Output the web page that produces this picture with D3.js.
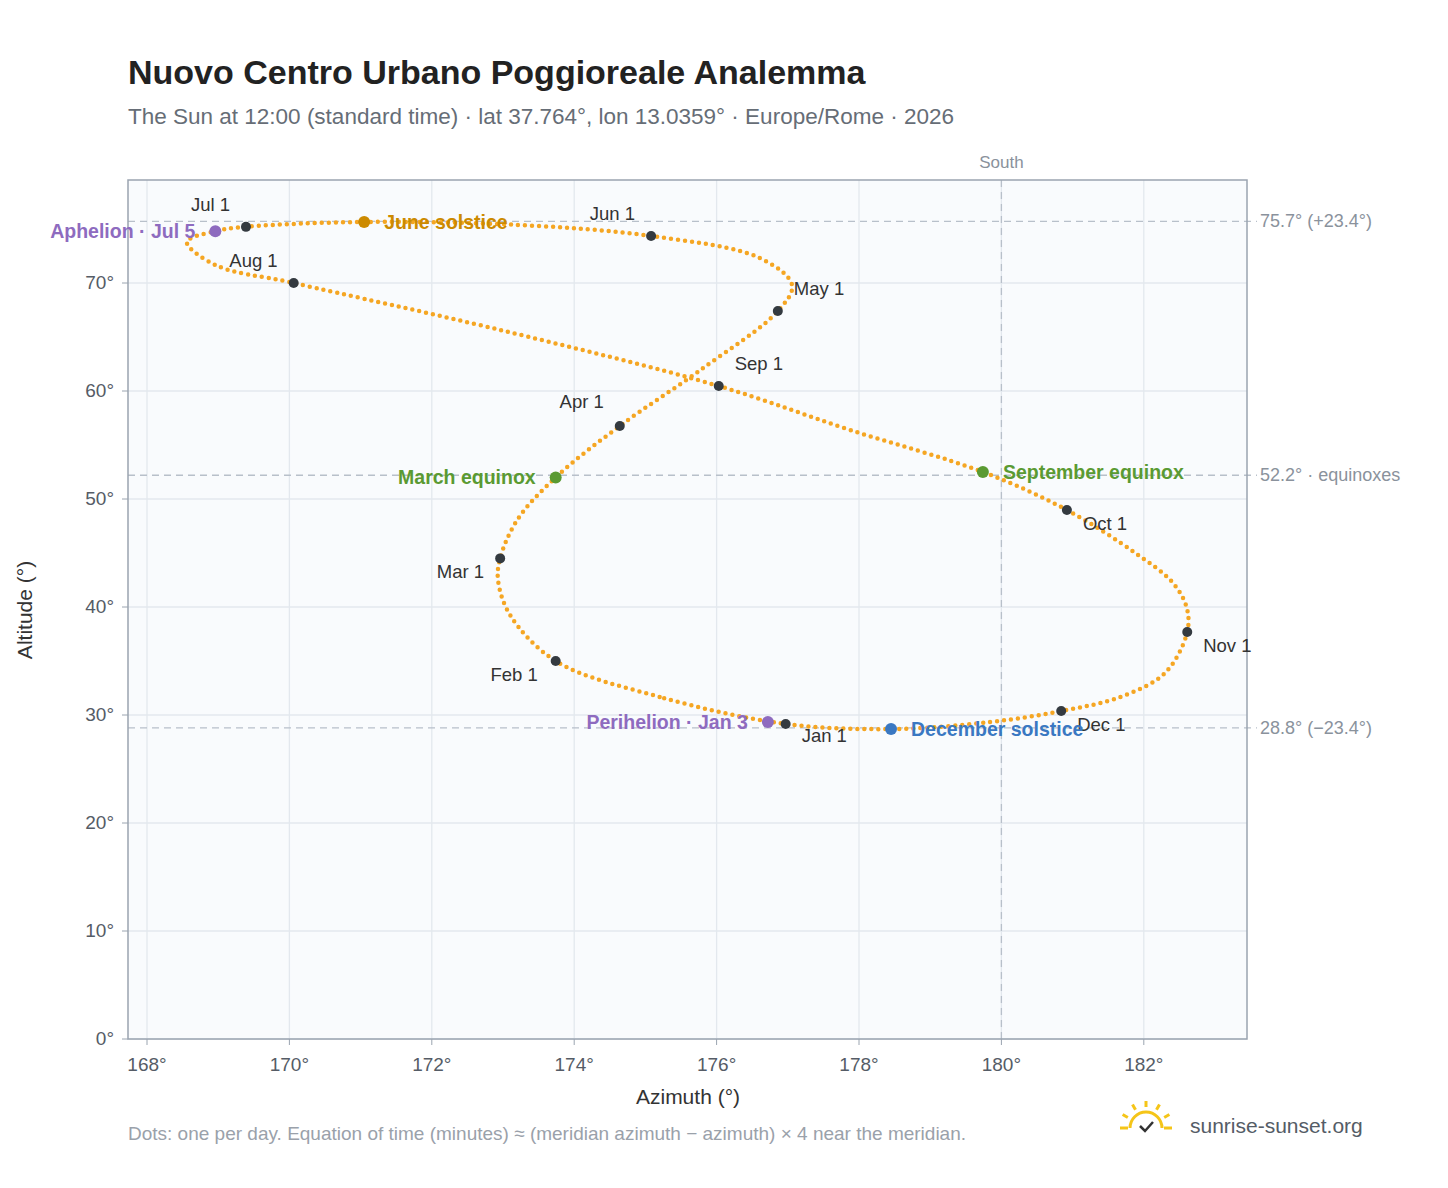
<!DOCTYPE html>
<html><head><meta charset="utf-8">
<script src="https://cdn.jsdelivr.net/npm/d3@7/dist/d3.min.js"></script>
<style>body{margin:0;background:#fff;font-family:"Liberation Sans",Arial,sans-serif}</style>
</head><body><svg id="c" width="1448" height="1188"></svg>
<script>
// Sun position at 12:00 through the year [azimuth, altitude]
const pathDates = ["Jan 1","Jan 15","Feb 1","Feb 15","Feb 20","Mar 1","Mar 10","Mar 20","Apr 1","Apr 15","May 1","May 12","May 20","Jun 1","Jun 10","Jun 21","Jul 1","Jul 5","Jul 12","Jul 20","Aug 1","Aug 15","Sep 1","Sep 15","Sep 23","Oct 1","Oct 15","Oct 22","Oct 27","Nov 1","Nov 10","Nov 20","Dec 1","Dec 10","Dec 21"];
const pathAz  = [176.97,175.2,173.74,173.1,172.93,172.96,173.2,173.74,174.64,175.77,176.86,177.06,176.61,175.08,173.24,171.05,169.39,168.96,168.56,168.96,170.06,172.96,176.03,177.87,179.74,180.92,181.88,182.4,182.6,182.61,182.3,181.67,180.84,179.84,178.45];
const pathAlt = [29.17,31.67,35.0,39.26,42.5,44.5,48.06,52.0,56.76,61.94,67.4,69.8,72.3,74.35,75.37,75.65,75.2,74.8,73.8,71.67,70.0,65.65,60.46,56.4,52.5,48.98,45.0,42.3,40.0,37.69,33.9,31.67,30.37,29.35,28.7];
const monthLabels = ["Jan 1","Feb 1","Mar 1","Apr 1","May 1","Jun 1","Jul 1","Aug 1","Sep 1","Oct 1","Nov 1","Dec 1"];
const monthAz  = [176.97,173.74,172.96,174.64,176.86,175.08,169.39,170.06,176.03,180.92,182.61,180.84];
const monthAlt = [29.17,35.0,44.5,56.76,67.4,74.35,75.2,70.0,60.46,48.98,37.69,30.37];
const specialLabels = ["Perihelion · Jan 3","March equinox","June solstice","Aphelion · Jul 5","September equinox","December solstice"];
const specialAz  = [176.72,173.74,171.05,168.96,179.74,178.45];
const specialAlt = [29.35,52.0,75.65,74.8,52.5,28.7];
const specialColor = ["#8e6bbf","#5a9a32","#cc8a00","#8e6bbf","#5a9a32","#3a78c2"];
const refAlt = [75.7,52.2,28.8];
const refLabels = ["75.7° (+23.4°)","52.2° · equinoxes","28.8° (−23.4°)"];
const xTicks = [168,170,172,174,176,178,180,182];
const yTicks = [0,10,20,30,40,50,60,70];

const svg=d3.select("#c");
const L=128,R=1247,T=180,B=1039;
const x=d3.scaleLinear().domain([168-19/71.2,168+1100/71.2]).range([L,R]);
const y=d3.scaleLinear().domain([0,(1039-180)/10.8]).range([B,T]);
svg.append("rect").attr("x",L).attr("y",T).attr("width",R-L).attr("height",B-T).attr("fill","#f9fbfd");
const g=svg.append("g");
d3.range(168,184,2).forEach(v=>{ g.append("line").attr("x1",x(v)).attr("x2",x(v)).attr("y1",T).attr("y2",B).attr("stroke","#e3e8ee").attr("stroke-width",1.3);});
d3.range(0,80,10).forEach(v=>{ g.append("line").attr("x1",L).attr("x2",R).attr("y1",y(v)).attr("y2",y(v)).attr("stroke","#e3e8ee").attr("stroke-width",1.3);});
refAlt.forEach((a,i)=>{
 g.append("line").attr("x1",L).attr("x2",R+10).attr("y1",y(a)).attr("y2",y(a)).attr("stroke","#b8c0ca").attr("stroke-dasharray","7,5").attr("stroke-width",1.3);
 svg.append("text").attr("x",1260).attr("y",y(a)+6).attr("font-size",18).attr("fill","#8a929c").text(refLabels[i]);
});
g.append("line").attr("x1",x(180)).attr("x2",x(180)).attr("y1",T).attr("y2",B).attr("stroke","#b8c0ca").attr("stroke-dasharray","7,5").attr("stroke-width",1.3);
svg.append("text").attr("x",x(180)).attr("y",168).attr("text-anchor","middle").attr("font-size",17).attr("fill","#8a929c").text("South");
svg.append("rect").attr("x",L).attr("y",T).attr("width",R-L).attr("height",B-T).attr("fill","none").attr("stroke","#9aa4b0").attr("stroke-width",1.5);

const pts=pathAz.map((a,i)=>[x(a),y(pathAlt[i])]);
const line=d3.line().curve(d3.curveCatmullRomClosed.alpha(0.5));
svg.append("path").attr("d",line(pts)).attr("fill","none").attr("stroke","#f5a623").attr("stroke-width",4.5).attr("stroke-linecap","round").attr("stroke-dasharray","0 7");

const monthOff=[[16,22,"start"],[-18,24,"end"],[-16,24,"end"],[-16,-14,"end"],[16,-12,"start"],[-16,-12,"end"],[-16,-12,"end"],[-16,-12,"end"],[16,-12,"start"],[16,24,"start"],[16,24,"start"],[16,24,"start"]];
monthAz.forEach((a,i)=>{
 svg.append("circle").attr("cx",x(a)).attr("cy",y(monthAlt[i])).attr("r",5).attr("fill","#343a40");
 const o=monthOff[i];
 svg.append("text").attr("x",x(a)+o[0]).attr("y",y(monthAlt[i])+o[1]-4).attr("text-anchor",o[2]).attr("font-size",18.5).attr("fill","#333").text(monthLabels[i]);
});
const spOff=[[-20,"end"],[-20,"end"],[20,"start"],[-20,"end"],[20,"start"],[20,"start"]];
specialAz.forEach((a,i)=>{
 svg.append("circle").attr("cx",x(a)).attr("cy",y(specialAlt[i])).attr("r",6).attr("fill",specialColor[i]);
 svg.append("text").attr("x",x(a)+spOff[i][0]).attr("y",y(specialAlt[i])+7).attr("text-anchor",spOff[i][1]).attr("font-size",19.5).attr("font-weight","bold").attr("fill",specialColor[i]).text(specialLabels[i]);
});

xTicks.forEach(v=>{svg.append("line").attr("x1",x(v)).attr("x2",x(v)).attr("y1",B).attr("y2",B+6).attr("stroke","#9aa4b0");
 svg.append("text").attr("x",x(v)).attr("y",B+32).attr("text-anchor","middle").attr("font-size",19).attr("fill","#555c66").text(v+"°");});
yTicks.forEach(v=>{svg.append("line").attr("x1",L-6).attr("x2",L).attr("y1",y(v)).attr("y2",y(v)).attr("stroke","#9aa4b0");
 svg.append("text").attr("x",L-14).attr("y",y(v)+6).attr("text-anchor","end").attr("font-size",19).attr("fill","#555c66").text(v+"°");});
svg.append("text").attr("x",688).attr("y",1104).attr("text-anchor","middle").attr("font-size",21).attr("fill","#333").text("Azimuth (°)");
svg.append("text").attr("transform","translate(32,610) rotate(-90)").attr("text-anchor","middle").attr("font-size",21).attr("fill","#333").text("Altitude (°)");
svg.append("text").attr("x",128).attr("y",84).attr("font-size",34).attr("font-weight","bold").attr("fill","#222").text("Nuovo Centro Urbano Poggioreale Analemma");
svg.append("text").attr("x",128).attr("y",124).attr("font-size",22.5).attr("fill","#666d76").text("The Sun at 12:00 (standard time) · lat 37.764°, lon 13.0359° · Europe/Rome · 2026");
svg.append("text").attr("x",128).attr("y",1140).attr("font-size",19).attr("fill","#9aa1aa").text("Dots: one per day. Equation of time (minutes) ≈ (meridian azimuth − azimuth) × 4 near the meridian.");
// logo
const lg=svg.append("g").attr("transform","translate(1146,1128)");
lg.append("path").attr("d","M-16,0 A16,16 0 0 1 16,0").attr("fill","none").attr("stroke","#f5c518").attr("stroke-width",3);
[-150,-120,-90,-60,-30].forEach(a=>{const r=a*Math.PI/180;lg.append("line").attr("x1",21*Math.cos(r)).attr("y1",21*Math.sin(r)).attr("x2",27*Math.cos(r)).attr("y2",27*Math.sin(r)).attr("stroke","#f5c518").attr("stroke-width",3);});
lg.append("line").attr("x1",-26).attr("x2",-18).attr("y1",0).attr("y2",0).attr("stroke","#f5c518").attr("stroke-width",3);
lg.append("line").attr("x1",18).attr("x2",26).attr("y1",0).attr("y2",0).attr("stroke","#f5c518").attr("stroke-width",3);
lg.append("path").attr("d","M-6,-2 L-1,3 L7,-6").attr("fill","none").attr("stroke","#333").attr("stroke-width",2.5);
svg.append("text").attr("x",1190).attr("y",1133).attr("font-size",21).attr("fill","#555c66").text("sunrise-sunset.org");
</script></body></html>
